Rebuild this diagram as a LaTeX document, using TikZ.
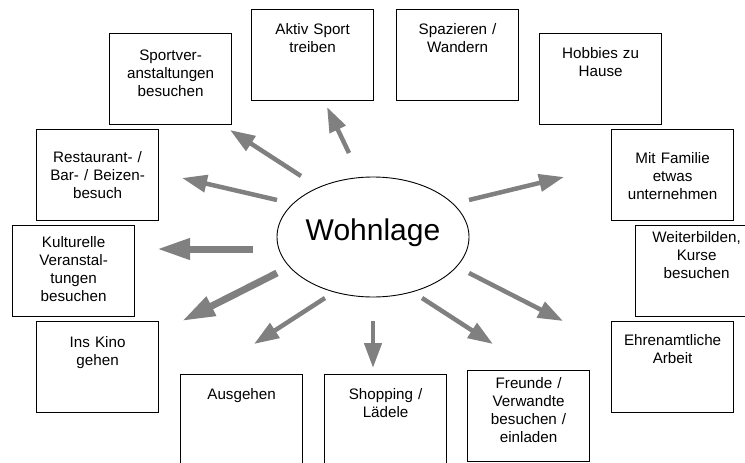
\documentclass[tikz,border=0pt]{standalone}
\usepackage{fontspec}
\setmainfont{Liberation Sans}
\usepackage{xcolor}
\usepackage{tikz}
\usetikzlibrary{arrows.meta,shapes.geometric}
\definecolor{wlInk}{HTML}{000000}
\definecolor{wlArrow}{HTML}{808080}
\tikzset{
  % Activity box, text set at the top
  abox/.style={rectangle,draw=wlInk,line width=1.2pt,
    anchor=north west,text width=116pt,inner xsep=3pt,inner ysep=0pt,
    text height=#1,text depth={91pt-#1},align=center,
    font=\fontsize{15.2}{18}\selectfont},
  abox/.default=25pt,
  % Central ellipse
  ebox/.style={ellipse,draw=wlInk,line width=0.9pt,
    minimum width=192pt,minimum height=120pt,
    inner xsep=-4pt,inner ysep=0pt,
    text height=21pt,text depth=15pt,
    font=\fontsize{30}{36}\selectfont},
  % Arrows
  arr/.style={-{Triangle[length=25pt,width=17pt]},line width=4.5pt,color=wlArrow},
  arrw/.style={-{Triangle[length=33pt,width=20pt]},line width=7pt,color=wlArrow},
}
\begin{document}
\begin{tikzpicture}[x=1pt,y=-1pt]
  \useasboundingbox (0,0) rectangle (745,463);
  \clip (0,0) rectangle (745,463);

  % Centre
  \node[ebox] (wohn) at (373,237) {Wohnlage};

  % Activities, clockwise from top
  \node[abox] (aktiv) at (251,9) {Aktiv Sport\\treiben};
  \node[abox] (spazieren) at (396,9) {Spazieren /\\Wandern};
  \node[abox] (hobbies) at (539,33) {Hobbies zu\\Hause};
  \node[abox=34pt] (familie) at (611,129) {Mit Familie\\etwas\\unternehmen};
  \node[abox=17pt] (weiterbilden) at (635,225) {Weiterbilden,\\Kurse\\besuchen};
  \node[abox=24pt] (ehrenamt) at (611,321) {Ehrenamtliche\\Arbeit};
  \node[abox=18pt] (freunde) at (467,370) {Freunde /\\Verwandte\\besuchen /\\einladen};
  \node[abox] (shopping) at (324,374) {Shopping /\\Lädele};
  \node[abox] (ausgehen) at (180,374) {Ausgehen};
  \node[abox=26pt] (kino) at (36,321) {Ins Kino\\gehen};
  \node[abox=22pt] (kultur) at (12,225) {Kulturelle\\Veranstal-\\tungen\\besuchen};
  \node[abox=33pt] (restaurant) at (36,129) {Restaurant- /\\Bar- / Beizen-\\besuch};
  \node[abox=27pt] (sportver) at (109,33) {Sportver-\\anstaltungen\\besuchen};

  % Arrows out of the ellipse
  \foreach \n/\xa/\ya/\xb/\yb in {aktiv/349/153/327/107,sportver/301/176/230/130,
      restaurant/277/200/182/178,ausgehen/325/298/254/344,shopping/373/321/373/368,
      freunde/422/298/493/344,ehrenamt/469/273/563/321,familie/469/200/564/177}
  {
    \coordinate (\n-s) at (\xa,\ya);
    \coordinate (\n-e) at (\xb,\yb);
    \draw[arr] (\n-s) -- (\n-e);
  }
  \foreach \n/\xa/\ya/\xb/\yb in {kultur/253/249/157/249,kino/277/273/182/321}
  {
    \coordinate (\n-s) at (\xa,\ya);
    \coordinate (\n-e) at (\xb,\yb);
    \draw[arrw] (\n-s) -- (\n-e);
  }
\end{tikzpicture}
\end{document}
